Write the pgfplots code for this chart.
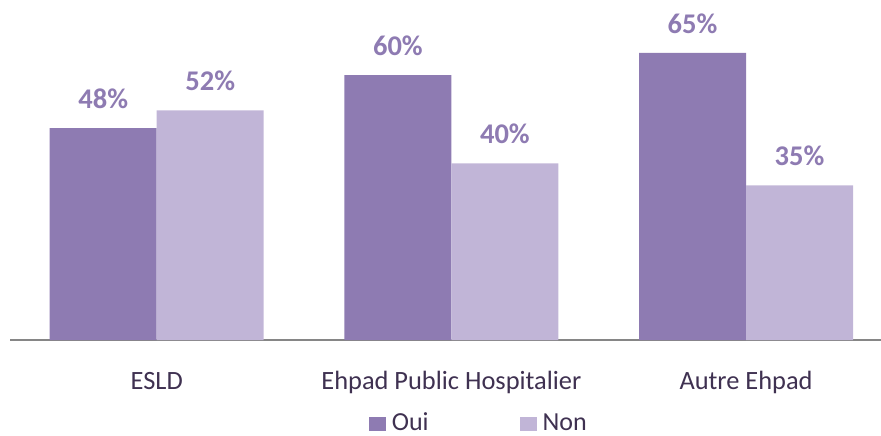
\documentclass[border=0pt]{standalone}
\usepackage{pgfplots}
\pgfplotsset{compat=1.18}
\usepackage{fontspec}
\setmainfont{Carlito}
\definecolor{oui}{HTML}{8E7BB2}
\definecolor{non}{HTML}{C1B5D7}
\definecolor{txt}{HTML}{3F3151}
\definecolor{axgray}{HTML}{868686}
\begin{document}
\begin{tikzpicture}
\path[use as bounding box] (-10bp,-96bp) rectangle (871bp,340bp);
\begin{axis}[
  at={(0,0)}, anchor=south west,
  scale only axis,
  width=871bp, height=340bp,
  xmin=-0.498, xmax=2.458,
  ymin=0, ymax=77,
  axis lines*=left,
  axis y line=none,
  x axis line style={draw=axgray, line width=1.5bp, -},
  xtick={0,1,2},
  xticklabels={ESLD, Ehpad Public Hospitalier, Autre Ehpad},
  major tick length=0pt,
  /pgf/number format/assume math mode=true,
  xticklabel style={anchor=base, yshift=-49bp, font=\fontsize{26.4bp}{30bp}\selectfont, text=txt, inner sep=0pt},
  ybar, bar width=107bp, bar shift auto,
  ybar=0pt,
  nodes near coords={\pgfmathprintnumber{\pgfplotspointmeta}\%},
  every node near coord/.append style={anchor=base, yshift=19.5bp, inner sep=0pt, text=oui, font=\bfseries\fontsize{28.5bp}{32bp}\selectfont},
  clip=false,
  legend columns=2,
  legend style={draw=none, fill=none, at={(0.412,-0.2676)}, anchor=base west, inner sep=0pt, outer sep=0pt,
    font=\fontsize{26bp}{30bp}\selectfont, text=txt,
    /tikz/every even column/.append style={column sep=91bp},
    nodes={inner sep=0pt, anchor=base west}},
  legend image code/.code={\fill[#1] (0bp,0bp) rectangle (17bp,14bp);},
  legend cell align=left,
]
\addplot[fill=oui, draw=none] coordinates {(0,48) (1,60) (2,65)};
\addplot[fill=non, draw=none] coordinates {(0,52) (1,40) (2,35)};
\legend{\hspace{6bp}Oui, \hspace{6bp}Non}
\end{axis}
\end{tikzpicture}
\end{document}
